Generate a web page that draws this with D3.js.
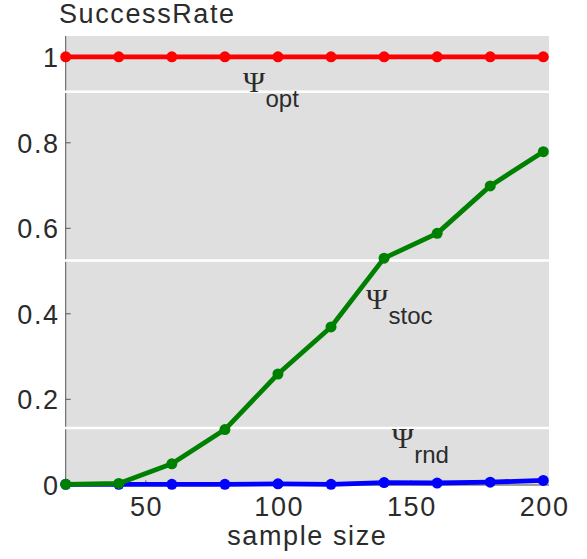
<!DOCTYPE html>
<html>
<head>
<meta charset="utf-8">
<script src="https://cdn.jsdelivr.net/npm/d3@7.9.0/dist/d3.min.js"></script>
<style>
  body { margin: 0; background: #fff; }
  svg text { font-family: "Liberation Sans", Arial, sans-serif; fill: #2b2b2b; }
</style>
</head>
<body>
<svg id="chart" width="587" height="559"></svg>
<script>
// sample sizes on the x axis
const sampleSizes = [20, 40, 60, 80, 100, 120, 140, 160, 180, 200];

// success rate of each method
const optRate  = [1, 1, 1, 1, 1, 1, 1, 1, 1, 1];
const stocRate = [0, 0.002, 0.048, 0.128, 0.258, 0.368, 0.529, 0.587, 0.698, 0.778];
const rndRate  = [0, 0, 0, 0, 0.001, 0, 0.004, 0.003, 0.005, 0.009];

const xTicks = [50, 100, 150, 200];
const yTicks = [0, 0.2, 0.4, 0.6, 0.8, 1];

// label names and where they sit (data units)
const labelSubs = ['opt', 'stoc', 'rnd'];
const labelAtX = [86.8, 133.2, 142.9];
const labelAtY = [0.918, 0.409, 0.0856];

// faint white bands that cut across the plot
const bandLevels = [0.918, 0.5235, 0.1317];

const svg = d3.select('#chart');

const x = d3.scaleLinear().domain([20, 200]).range([65.7, 543.3]);
const y = d3.scaleLinear().domain([0, 1]).range([484.3, 56.8]);

const plotLeft = 65.7, plotRight = 549, plotTop = 36, plotBottom = 485.5;

// grey plot background
svg.append('rect')
    .attr('x', plotLeft)
    .attr('y', plotTop)
    .attr('width', plotRight - plotLeft)
    .attr('height', plotBottom - plotTop)
    .attr('fill', '#dfdfdf');

// axis lines
svg.append('line')
    .attr('x1', plotLeft).attr('x2', plotLeft)
    .attr('y1', plotTop).attr('y2', plotBottom)
    .attr('stroke', '#555').attr('stroke-width', 1);
svg.append('line')
    .attr('x1', plotLeft).attr('x2', plotRight)
    .attr('y1', plotBottom - 0.5).attr('y2', plotBottom - 0.5)
    .attr('stroke', '#555').attr('stroke-width', 1);

// y axis with ticks pointing inward
const yAxis = svg.append('g')
    .attr('transform', `translate(${plotLeft},0)`)
    .call(d3.axisLeft(y)
        .tickValues(yTicks)
        .tickFormat(d3.format('~g'))
        .tickSizeInner(-5)
        .tickSizeOuter(0)
        .tickPadding(6));

yAxis.select('.domain').remove();
yAxis.selectAll('.tick line').attr('stroke', '#555');
yAxis.selectAll('.tick text')
    .attr('dy', '0.37em')
    .style('font-size', '27px')
    .style('letter-spacing', '1.6px')
    .style('font-family', '"Liberation Sans", Arial, sans-serif')
    .attr('fill', '#2b2b2b');

// x axis with ticks pointing inward
const xAxis = svg.append('g')
    .attr('transform', `translate(0,${y(0)})`)
    .call(d3.axisBottom(x)
        .tickValues(xTicks)
        .tickSizeInner(-4)
        .tickSizeOuter(0)
        .tickPadding(12.5));

xAxis.select('.domain').remove();
xAxis.selectAll('.tick line').attr('stroke', '#555');
xAxis.selectAll('.tick text')
    .attr('dx', '0.8')
    .style('font-size', '27px')
    .style('letter-spacing', '1.6px')
    .style('font-family', '"Liberation Sans", Arial, sans-serif')
    .attr('fill', '#2b2b2b');

// white bands
svg.selectAll('line.band')
    .data(bandLevels)
    .enter()
    .append('line')
    .attr('class', 'band')
    .attr('x1', plotLeft - 1.5)
    .attr('x2', plotRight)
    .attr('y1', d => y(d))
    .attr('y2', d => y(d))
    .attr('stroke', '#fff')
    .attr('stroke-width', 2.5);

// series, drawn bottom to top
const series = [
    { values: rndRate, color: '#0000ff' },
    { values: stocRate, color: '#008000' },
    { values: optRate, color: '#ff0000' }
];

const line = d3.line()
    .x((d, i) => x(sampleSizes[i]))
    .y(d => y(d));

series.forEach(s => {
    svg.append('path')
        .datum(s.values)
        .attr('d', line)
        .attr('fill', 'none')
        .attr('stroke', s.color)
        .attr('stroke-width', 4.8)
        .attr('stroke-linejoin', 'round');

    svg.selectAll(null)
        .data(s.values)
        .enter()
        .append('circle')
        .attr('cx', (d, i) => x(sampleSizes[i]))
        .attr('cy', d => y(d))
        .attr('r', 5.5)
        .attr('fill', s.color);
});

// Psi labels with subscripts
labelSubs.forEach((sub, i) => {
    const px = x(labelAtX[i]);
    const py = y(labelAtY[i]);
    svg.append('text')
        .attr('x', px)
        .attr('y', py)
        .style('font-family', '"Liberation Serif", "Times New Roman", serif')
        .style('font-size', '30px')
        .attr('fill', '#111')
        .text('\u03A8');
    svg.append('text')
        .attr('x', px + 22.5)
        .attr('y', py + 15)
        .style('font-size', '24px')
        .attr('fill', '#111')
        .text(sub);
});

// titles
svg.append('text')
    .attr('x', 59)
    .attr('y', 23.3)
    .style('font-size', '27px')
    .style('letter-spacing', '1.6px')
    .text('SuccessRate');

svg.append('text')
    .attr('x', (plotLeft + plotRight) / 2)
    .attr('y', 545)
    .attr('text-anchor', 'middle')
    .style('font-size', '27px')
    .style('letter-spacing', '1.6px')
    .text('sample size');
</script>
</body>
</html>
